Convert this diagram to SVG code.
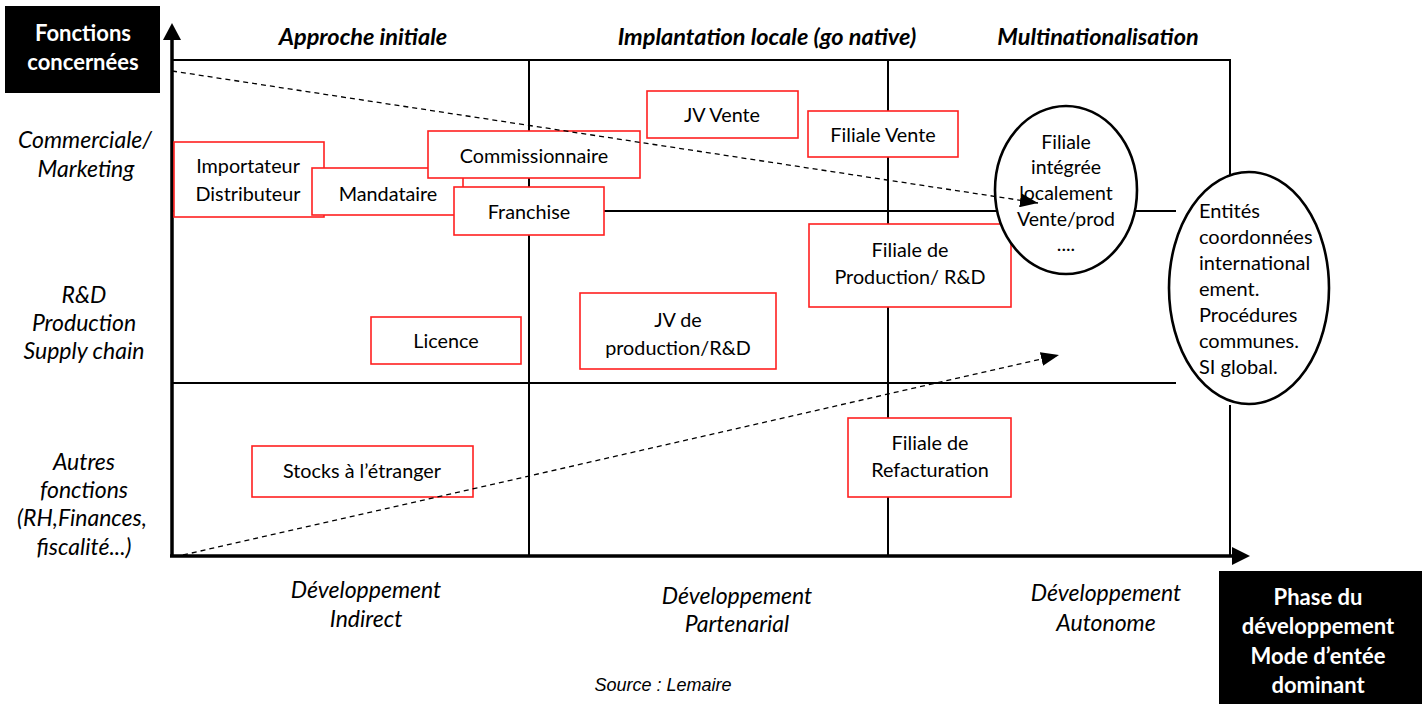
<svg xmlns="http://www.w3.org/2000/svg" width="1422" height="704" viewBox="0 0 1422 704">
<style>
  text { font-family: Lato, "Liberation Sans", sans-serif; fill: #000; }
  .box { fill: #fff; stroke: #ff2020; stroke-width: 1.6; }
  .ell { fill: #fff; stroke: #000; stroke-width: 2.6; }
  .grid { stroke: #000; stroke-width: 2; fill: none; }
  .axis { stroke: #000; stroke-width: 3.5; fill: none; }
  .dash { stroke: #000; stroke-width: 1.3; stroke-dasharray: 5 4; fill: none; }
  .t { font-size: 19.8px; text-anchor: middle; }
  .te { font-size: 19.5px; text-anchor: middle; }
  .tl { font-size: 20px; text-anchor: start; }
  .hdr { font-size: 23.5px; font-weight: bold; font-style: italic; text-anchor: middle; }
  .lab { font-size: 23px; font-style: italic; text-anchor: middle; }
  .blk { font-size: 22px; font-weight: bold; text-anchor: middle; fill: #fff; }
  .src { font-family: "Liberation Sans", Arial, sans-serif; font-size: 18px; font-style: italic; text-anchor: middle; }
</style>
<defs>
  <marker id="dh" viewBox="0 0 10 10" refX="10" refY="5" markerWidth="18" markerHeight="14" markerUnits="userSpaceOnUse" orient="auto" preserveAspectRatio="none">
    <path d="M0,0 L10,5 L0,10 z" fill="#000"/>
  </marker>
</defs>
<rect width="1422" height="704" fill="#fff"/>

<g id="grid">
  <line class="grid" x1="172" y1="60" x2="1231" y2="60"/>
  <line class="grid" x1="1230" y1="60" x2="1230" y2="176"/>
  <line class="grid" x1="1230" y1="405" x2="1230" y2="556"/>
  <line class="grid" x1="529" y1="60" x2="529" y2="556"/>
  <line class="grid" x1="888" y1="60" x2="888" y2="556"/>
  <line class="grid" x1="172" y1="211" x2="1176" y2="211"/>
  <line class="grid" x1="172" y1="383" x2="1176" y2="383"/>
</g>

<g id="axes">
  <line class="axis" x1="172" y1="557" x2="172" y2="38"/>
  <path d="M163,40 L172,23 L181,40 z" fill="#000"/>
  <line class="axis" x1="170" y1="556" x2="1234" y2="556"/>
  <path d="M1232,547 L1250,556 L1232,565 z" fill="#000"/>
</g>

<g id="titles">
  <rect x="5" y="6" width="155" height="87" fill="#000"/>
  <text class="blk" x="83" y="41">Fonctions</text>
  <text class="blk" x="83" y="70">concernées</text>
  <text class="hdr" x="363" y="45">Approche initiale</text>
  <text class="hdr" x="767" y="45">Implantation locale (go native)</text>
  <text class="hdr" x="1098" y="45">Multinationalisation</text>
  <text class="lab" x="85" y="148">Commerciale/</text>
  <text class="lab" x="86" y="177">Marketing</text>
  <text class="lab" x="84" y="303">R&amp;D</text>
  <text class="lab" x="84" y="331">Production</text>
  <text class="lab" x="84" y="359">Supply chain</text>
  <text class="lab" x="84" y="470">Autres</text>
  <text class="lab" x="84" y="498">fonctions</text>
  <text class="lab" x="82" y="526">(RH,Finances,</text>
  <text class="lab" x="84" y="555">fiscalité...)</text>
  <text class="lab" x="366" y="598">Développement</text>
  <text class="lab" x="366" y="627">Indirect</text>
  <text class="lab" x="737" y="604">Développement</text>
  <text class="lab" x="737" y="632">Partenarial</text>
  <text class="lab" x="1106" y="601">Développement</text>
  <text class="lab" x="1106" y="631">Autonome</text>
  <text class="src" x="663" y="691">Source : Lemaire</text>
  <rect x="1219" y="571" width="203" height="133" fill="#000"/>
  <text class="blk" x="1318" y="605">Phase du</text>
  <text class="blk" x="1318" y="634">développement</text>
  <text class="blk" x="1318" y="664">Mode d’entée</text>
  <text class="blk" x="1318" y="693">dominant</text>
</g>

<g id="importateur">
  <rect class="box" x="174" y="142" width="150" height="75"/>
  <text class="t" x="248" y="173">Importateur</text>
  <text class="t" x="248" y="201">Distributeur</text>
</g>
<g id="mandataire">
  <rect class="box" x="312" y="168" width="151" height="47"/>
  <text class="t" x="388" y="201">Mandataire</text>
</g>
<g id="commissionnaire">
  <rect class="box" x="428" y="131" width="212" height="47"/>
  <text class="t" x="534" y="163">Commissionnaire</text>
</g>
<g id="franchise">
  <rect class="box" x="454" y="187" width="150" height="48"/>
  <text class="t" x="529" y="219">Franchise</text>
</g>
<g id="jv-vente">
  <rect class="box" x="647" y="91" width="151" height="47"/>
  <text class="t" x="722" y="122">JV Vente</text>
</g>
<g id="filiale-vente">
  <rect class="box" x="808" y="111" width="150" height="46"/>
  <text class="t" x="883" y="142">Filiale Vente</text>
</g>
<g id="filiale-production">
  <rect class="box" x="809" y="224" width="202" height="83"/>
  <text class="t" x="910" y="257">Filiale de</text>
  <text class="t" x="910" y="284">Production/ R&amp;D</text>
</g>
<g id="licence">
  <rect class="box" x="371" y="317" width="150" height="47"/>
  <text class="t" x="446" y="348">Licence</text>
</g>
<g id="jv-production">
  <rect class="box" x="580" y="293" width="196" height="76"/>
  <text class="t" x="678" y="327">JV de</text>
  <text class="t" x="678" y="355">production/R&amp;D</text>
</g>
<g id="stocks">
  <rect class="box" x="252" y="446" width="221" height="51"/>
  <text class="t" x="362" y="478">Stocks à l’étranger</text>
</g>
<g id="filiale-refacturation">
  <rect class="box" x="848" y="418" width="163" height="79"/>
  <text class="t" x="930" y="450">Filiale de</text>
  <text class="t" x="930" y="477">Refacturation</text>
</g>
<g id="filiale-integree">
  <ellipse class="ell" cx="1066" cy="190" rx="71" ry="84"/>
  <text class="te" x="1066" y="149">Filiale</text>
  <text class="te" x="1066" y="174">intégrée</text>
  <text class="te" x="1066" y="200">localement</text>
  <text class="te" x="1066" y="226">Vente/prod</text>
  <text class="te" x="1066" y="251">....</text>
</g>
<g id="entites">
  <ellipse class="ell" cx="1249" cy="288" rx="80" ry="116"/>
  <text class="tl" x="1199" y="218">Entités</text>
  <text class="tl" x="1199" y="244">coordonnées</text>
  <text class="tl" x="1199" y="270">international</text>
  <text class="tl" x="1199" y="296">ement.</text>
  <text class="tl" x="1199" y="322">Procédures</text>
  <text class="tl" x="1199" y="348">communes.</text>
  <text class="tl" x="1199" y="374">SI global.</text>
</g>

<g id="connectors">
  <line class="dash" x1="172" y1="71" x2="1038" y2="203" marker-end="url(#dh)"/>
  <line class="dash" x1="183" y1="555" x2="1059" y2="355" marker-end="url(#dh)"/>
</g>
</svg>
